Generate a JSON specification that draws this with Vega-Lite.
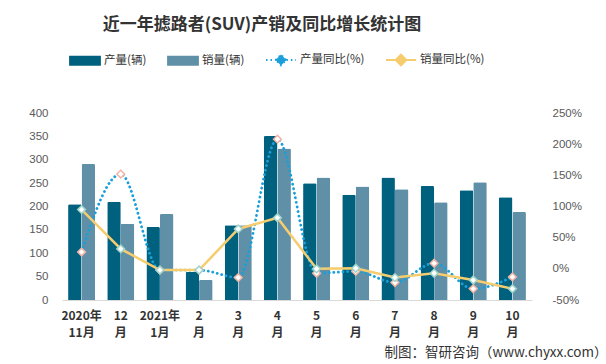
{
  "$schema": "https://vega.github.io/schema/vega-lite/v6.json",
  "width": 470,
  "height": 187,
  "autosize": {"type": "none"},
  "padding": {"left": 62, "top": 113, "right": 74, "bottom": 64},
  "background": "white",
  "title": {
    "text": "近一年摅路者(SUV)产销及同比增长统计图",
    "font": "Noto Sans CJK SC",
    "fontSize": 17,
    "fontWeight": "bold",
    "color": "#333333",
    "anchor": "middle",
    "dx": -35,
    "offset": 10
  },
  "config": {
    "view": {"stroke": null},
    "font": "Noto Sans CJK SC"
  },
  "data": {
    "values": [
      {"m": "2020年\n11月", "prod": 205, "sales": 291, "py": 27, "sy": 95},
      {"m": "12\n月", "prod": 210, "sales": 163, "py": 152, "sy": 32},
      {"m": "2021年\n1月", "prod": 156, "sales": 184, "py": -2, "sy": -2},
      {"m": "2\n月", "prod": 60, "sales": 43, "py": -2, "sy": -2},
      {"m": "3\n月", "prod": 160, "sales": 160, "py": -14, "sy": 64},
      {"m": "4\n月", "prod": 351, "sales": 324, "py": 208, "sy": 82},
      {"m": "5\n月", "prod": 250, "sales": 262, "py": -7, "sy": 0},
      {"m": "6\n月", "prod": 225, "sales": 243, "py": -4, "sy": 1},
      {"m": "7\n月", "prod": 262, "sales": 237, "py": -22, "sy": -14},
      {"m": "8\n月", "prod": 244, "sales": 209, "py": 9, "sy": -7},
      {"m": "9\n月", "prod": 235, "sales": 252, "py": -32, "sy": -18},
      {"m": "10\n月", "prod": 220, "sales": 188, "py": -13, "sy": -32}
    ]
  },
  "encoding": {
    "x": {
      "field": "m",
      "type": "nominal",
      "sort": null,
      "scale": {"paddingInner": 0.31, "paddingOuter": 0.155},
      "axis": {
        "labelAngle": 0,
        "labelExpr": "split(datum.label, '\\n')",
        "labelFont": "Noto Sans CJK SC",
        "labelFontSize": 12,
        "labelFontWeight": "bold",
        "labelColor": "#333333",
        "labelLineHeight": 17,
        "labelPadding": 10,
        "ticks": false,
        "domainColor": "#d9d9d9",
        "domainWidth": 1,
        "title": "制图：智研咨询（www.chyxx.com）",
        "titleFont": "Noto Sans CJK SC",
        "titleFontSize": 13.5,
        "titleFontWeight": "normal",
        "titleColor": "#333333",
        "titleAnchor": "end",
        "titleAlign": "right",
        "titleBaseline": "alphabetic",
        "titleX": 545,
        "titleY": 56
      }
    }
  },
  "layer": [
    {
      "transform": [{"fold": ["prod", "sales"], "as": ["series", "val"]}],
      "mark": {"type": "bar", "cornerRadiusTopLeft": 1.5, "cornerRadiusTopRight": 1.5},
      "encoding": {
        "xOffset": {"field": "series", "type": "nominal", "scale": {"domain": ["prod", "sales"], "paddingInner": 0, "paddingOuter": 0}},
        "y": {
          "field": "val",
          "type": "quantitative",
          "scale": {"domain": [0, 400], "nice": false},
          "axis": {
            "values": [0, 50, 100, 150, 200, 250, 300, 350, 400],
            "grid": false,
            "domain": false,
            "ticks": false,
            "labelPadding": 14,
            "labelFont": "Liberation Sans",
            "labelFontSize": 11.5,
            "labelColor": "#595959",
            "title": null
          }
        },
        "color": {
          "field": "series",
          "type": "nominal",
          "scale": {"domain": ["prod", "sales", "py", "sy"], "range": ["#00617f", "#5f90a7", "#1a9fda", "#f6cd6e"]},
          "legend": {
            "orient": "none",
            "legendX": 7,
            "legendY": -69,
            "direction": "horizontal",
            "columns": 4,
            "columnPadding": 17,
            "title": null,
            "labelFont": "Noto Sans CJK SC",
            "labelFontSize": 11.5,
            "labelColor": "#333333",
            "labelOffset": 3,
            "symbolSize": 900,
            "labelExpr": "({'prod':'产量(辆)','sales':'销量(辆)','py':'产量同比(%)','sy':'销量同比(%)'})[datum.label]",
            "encode": {
              "symbols": {
                "update": {
                  "shape": [
                    {"test": "datum.value === 'py' || datum.value === 'sy'", "value": "M-1,0H-0.36M0.36,0H1M-0.36,0L0,-0.36L0.36,0L0,0.36Z"},
                    {"value": "M-1,-0.27H1V0.27H-1Z"}
                  ],
                  "fill": [
                    {"test": "datum.value === 'prod'", "value": "#00617f"},
                    {"test": "datum.value === 'sales'", "value": "#5f90a7"},
                    {"value": "#ffffff"}
                  ],
                  "fillOpacity": {"value": 1},
                  "stroke": [
                    {"test": "datum.value === 'py'", "value": "#1a9fda"},
                    {"test": "datum.value === 'sy'", "value": "#f6cd6e"},
                    {"value": "transparent"}
                  ],
                  "strokeWidth": {"value": 1.8},
                  "strokeDash": [
                    {"test": "datum.value === 'py'", "value": [1.5, 3]},
                    {"value": []}
                  ],
                  "size": {"value": 900}
                }
              }
            }
          }
        }
      }
    },
    {
      "transform": [{"fold": ["py", "sy"], "as": ["s2", "yoy"]}],
      "encoding": {
        "y": {
          "field": "yoy",
          "type": "quantitative",
          "scale": {"domain": [-50, 250], "nice": false},
          "axis": {
            "orient": "right",
            "values": [-50, 0, 50, 100, 150, 200, 250],
            "labelExpr": "datum.value + '%'",
            "grid": false,
            "domain": false,
            "ticks": false,
            "labelPadding": 20,
            "labelFont": "Liberation Sans",
            "labelFontSize": 11.5,
            "labelColor": "#595959",
            "title": null
          }
        }
      },
      "layer": [
        {
          "transform": [{"filter": "datum.s2 === 'py'"}],
          "mark": {"type": "line", "interpolate": "monotone", "strokeDash": [0.1, 4.5], "strokeWidth": 2.8, "strokeCap": "round"},
          "encoding": {"color": {"datum": "py", "type": "nominal"}}
        },
        {
          "transform": [{"filter": "datum.s2 === 'sy'"}],
          "mark": {"type": "line", "strokeWidth": 2.5},
          "encoding": {"color": {"datum": "sy", "type": "nominal"}}
        },
        {
          "transform": [{"filter": "datum.s2 === 'py'"}],
          "mark": {"type": "point", "shape": "diamond", "size": 60, "filled": true, "fill": "#ffffff", "stroke": "#f2b3a3", "strokeWidth": 1.5, "opacity": 1}
        },
        {
          "transform": [{"filter": "datum.s2 === 'sy'"}],
          "mark": {"type": "point", "shape": "diamond", "size": 60, "filled": true, "fill": "#ffffff", "stroke": "#9fd4cc", "strokeWidth": 1.5, "opacity": 1}
        }
      ]
    }
  ],
  "resolve": {"scale": {"y": "independent"}}
}
